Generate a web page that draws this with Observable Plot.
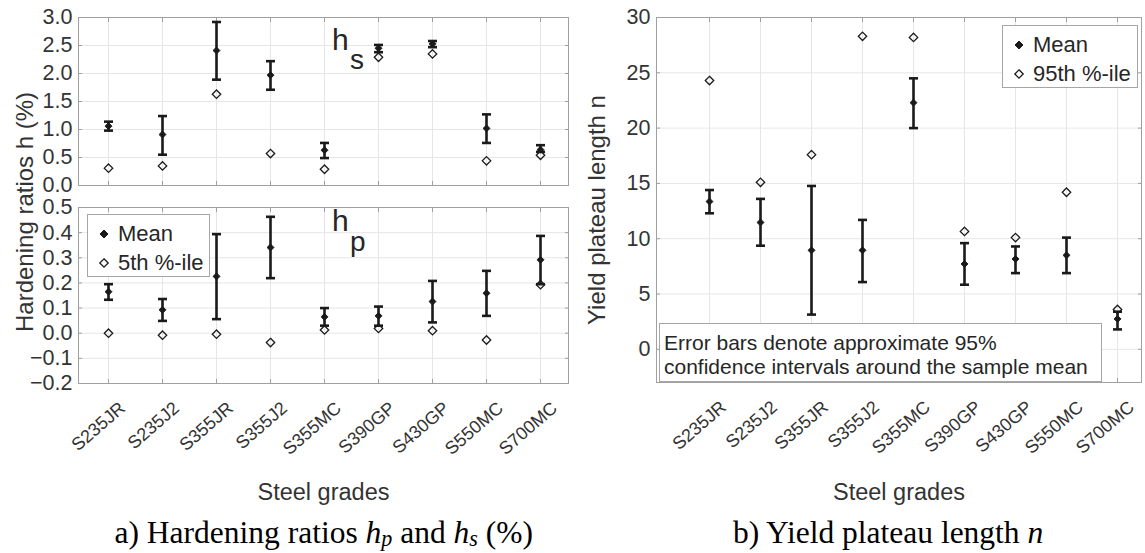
<!DOCTYPE html>
<html>
<head>
<meta charset="utf-8">
<script src="https://cdn.jsdelivr.net/npm/d3@7"></script>
<script src="https://cdn.jsdelivr.net/npm/@observablehq/plot@0.6"></script>
<style>
  body { margin: 0; background: #fff; }
  #wrap { position: relative; width: 1145px; height: 553px; overflow: hidden; font-family: "Liberation Sans", Arial, sans-serif; color: #333; }
  .abs { position: absolute; white-space: nowrap; }
  .ylab { position: absolute; font-size: 24px; color: #333; transform-origin: 0 0; transform: rotate(-90deg); white-space: nowrap; line-height: 1; }
  .legend { position: absolute; background: #fff; border: 1px solid #a6a6a6; box-sizing: border-box; font-size: 22px; color: #262626; }
  .legend .row { position: absolute; left: 0; height: 26px; line-height: 26px; }
  .legend svg { position: absolute; top: 6px; }
  .legend span { position: absolute; }
  .caption { position: absolute; font-family: "Liberation Serif", "Times New Roman", serif; font-size: 31.5px; color: #000; white-space: nowrap; line-height: 1; }
  .caption sub { font-size: 0.7em; vertical-align: -0.12em; line-height: 0; }
  .note { position: absolute; border: 1px solid #a6a6a6; background: #fff; box-sizing: border-box; font-size: 21px; line-height: 24px; color: #262626; padding: 7px 0 0 4px; }
</style>
</head>
<body>
<div id="wrap"></div>
<script>
// ---------------- data ----------------
const grades = ["S235JR", "S235J2", "S355JR", "S355J2", "S355MC", "S390GP", "S430GP", "S550MC", "S700MC"];

// h_s (%) : mean, 95% CI low / high, 5th percentile
const hsMean = [1.06, 0.91, 2.41, 1.97, 0.63, 2.45, 2.53, 1.02, 0.64];
const hsLo   = [0.98, 0.55, 1.89, 1.71, 0.49, 2.38, 2.47, 0.76, 0.60];
const hsHi   = [1.14, 1.24, 2.92, 2.22, 0.76, 2.51, 2.58, 1.27, 0.72];
const hs5    = [0.31, 0.35, 1.63, 0.57, 0.29, 2.29, 2.35, 0.44, 0.54];

// h_p (%) : mean, 95% CI low / high, 5th percentile
const hpMean = [0.165, 0.093, 0.226, 0.341, 0.065, 0.069, 0.126, 0.159, 0.292];
const hpLo   = [0.133, 0.049, 0.056, 0.219, 0.030, 0.030, 0.043, 0.069, 0.195];
const hpHi   = [0.195, 0.136, 0.394, 0.463, 0.100, 0.106, 0.208, 0.248, 0.387];
const hp5    = [0.000, -0.008, -0.004, -0.037, 0.013, 0.019, 0.010, -0.027, 0.193];

// yield plateau length n : mean, 95% CI low / high, 95th percentile
const nMean = [13.36, 11.47, 8.95, 8.95, 22.3, 7.72, 8.17, 8.5, 2.75];
const nLo   = [12.3, 9.37, 3.14, 6.08, 20.0, 5.84, 6.89, 6.89, 1.8];
const nHi   = [14.4, 13.6, 14.77, 11.7, 24.5, 9.6, 9.3, 10.1, 3.4];
const n95   = [24.3, 15.1, 17.6, 28.3, 28.2, 10.66, 10.1, 14.2, 3.6];

// tick values
const hsTicks = [0, 0.5, 1.0, 1.5, 2.0, 2.5, 3.0];
const hpTicks = [-0.2, -0.1, 0, 0.1, 0.2, 0.3, 0.4, 0.5];
const nTicks  = [0, 5, 10, 15, 20, 25, 30];

// ---------------- drawing ----------------
const wrap = document.getElementById("wrap");
const INK = "#1a1a1a";
const FRAME = "#a0a0a0";
const GRID = "#e6e6e6";
const TXT = "#333333";

// horizontal cap symbol for error bars
const capSymbol = {draw(ctx) { ctx.moveTo(-4.5, 0); ctx.lineTo(4.5, 0); }};

function panel({mean, lo, hi, pct, yDomain, yTicks, yFormat, width, height, mt, mb, ml, mr, xRange, showX, xLabelDy, left, top}) {
  const idx = grades.map((_, i) => i);
  const marks = [
    Plot.gridX(grades, {stroke: GRID, strokeOpacity: 1}),
    Plot.gridY(yTicks, {stroke: GRID, strokeOpacity: 1}),
    Plot.frame({stroke: FRAME}),
    // inward tick marks on all four sides
    Plot.axisY(yTicks, {anchor: "left", tickSize: 4, dx: 4, fill: "none", stroke: FRAME, label: null}),
    Plot.axisY(yTicks, {anchor: "right", tickSize: 4, dx: -4, fill: "none", stroke: FRAME, label: null}),
    Plot.axisX(grades, {anchor: "bottom", tickSize: 4, dy: -4, fill: "none", stroke: FRAME, label: null}),
    Plot.axisX(grades, {anchor: "top", tickSize: 4, dy: 4, fill: "none", stroke: FRAME, label: null}),
    // y tick labels
    Plot.axisY(yTicks, {anchor: "left", tickSize: 0, tickPadding: 6, tickFormat: yFormat, fontSize: 21.5, fill: TXT, label: null}),
    // error bars
    Plot.ruleX(idx, {x: i => grades[i], y1: i => lo[i], y2: i => hi[i], stroke: INK, strokeWidth: 2.6}),
    Plot.dot(idx, {x: i => grades[i], y: i => lo[i], symbol: capSymbol, stroke: INK, strokeWidth: 2.6, fill: "none"}),
    Plot.dot(idx, {x: i => grades[i], y: i => hi[i], symbol: capSymbol, stroke: INK, strokeWidth: 2.6, fill: "none"}),
    // percentile (open diamonds)
    Plot.dot(idx, {x: i => grades[i], y: i => pct[i], symbol: "diamond2", r: 3.8, fill: "none", stroke: INK, strokeWidth: 1.3}),
    // mean (filled diamonds)
    Plot.dot(idx, {x: i => grades[i], y: i => mean[i], symbol: "diamond2", r: 3.1, fill: INK, stroke: INK, strokeWidth: 1})
  ];
  if (showX) {
    marks.push(Plot.axisX(grades, {anchor: "bottom", tickSize: 0, tickPadding: 0, tickRotate: -41, fontSize: 18, fill: TXT, label: null, dx: 14, dy: 22}));
    marks.push(Plot.text(["Steel grades"], {frameAnchor: "bottom", dy: xLabelDy, fontSize: 23.5, fill: TXT, lineAnchor: "middle"}));
  }
  const chart = Plot.plot({
    width, height,
    marginTop: mt, marginBottom: mb, marginLeft: ml, marginRight: mr,
    style: {fontFamily: "'Liberation Sans', Arial, sans-serif", background: "transparent", overflow: "visible"},
    x: {type: "point", domain: grades, range: xRange, padding: 0, axis: null},
    y: {domain: yDomain, axis: null},
    marks
  });
  chart.style.position = "absolute";
  chart.style.left = left + "px";
  chart.style.top = top + "px";
  wrap.appendChild(chart);
  return chart;
}

const f1 = d3.format(".1f");

// a) top : h_s
panel({mean: hsMean, lo: hsLo, hi: hsHi, pct: hs5, yDomain: [0, 3], yTicks: hsTicks, yFormat: f1,
  width: 580, height: 190, mt: 17, mb: 5, ml: 78, mr: 12, xRange: [107, 541], showX: false, left: 0, top: 0});

// a) bottom : h_p
panel({mean: hpMean, lo: hpLo, hi: hpHi, pct: hp5, yDomain: [-0.2, 0.5], yTicks: hpTicks, yFormat: f1,
  width: 580, height: 320, mt: 17, mb: 127, ml: 78, mr: 12, xRange: [107, 541], showX: true, xLabelDy: 109, left: 0, top: 190});

// b) n
panel({mean: nMean, lo: nLo, hi: nHi, pct: n95, yDomain: [-3, 30], yTicks: nTicks, yFormat: d3.format("d"),
  width: 565, height: 510, mt: 17, mb: 128, ml: 76, mr: 4, xRange: [126.7, 539.3], showX: true, xLabelDy: 110, left: 580, top: 0});

// ---------------- overlay texts ----------------
function addDiv(cls, html, styles) {
  const d = document.createElement("div");
  d.className = cls;
  d.innerHTML = html;
  Object.assign(d.style, styles);
  wrap.appendChild(d);
  return d;
}

// y-axis labels (rotated)
const yl1 = addDiv("ylab", "Hardening ratios h (%)", {});
const yl2 = addDiv("ylab", "Yield plateau length n", {});
function placeYLab(el, cx, cy) {
  const w = el.offsetWidth, h = el.offsetHeight;
  el.style.left = (cx - h / 2) + "px";
  el.style.top = (cy + w / 2) + "px";
}
placeYLab(yl1, 25, 212);
placeYLab(yl2, 597, 210);

// h_s and h_p panel labels
addDiv("abs", "h", {left: "332px", top: "25px", fontSize: "30px", lineHeight: "1", color: "#262626"});
addDiv("abs", "s", {left: "350px", top: "46px", fontSize: "28px", lineHeight: "1", color: "#262626"});
addDiv("abs", "h", {left: "332px", top: "206px", fontSize: "30px", lineHeight: "1", color: "#262626"});
addDiv("abs", "p", {left: "350px", top: "228px", fontSize: "28px", lineHeight: "1", color: "#262626"});

// legends
function legend(left, top, w, h, label2, symX, txtX) {
  const el = addDiv("legend", "", {left: left + "px", top: top + "px", width: w + "px", height: h + "px"});
  el.innerHTML = `
    <div class="row" style="top:${6}px;width:100%"><svg style="left:${symX}px" width="12" height="14" viewBox="-6 -7 12 14"><path d="M0,-4L4,0L0,4L-4,0Z" fill="${INK}" stroke="${INK}"/></svg><span style="left:${txtX}px">Mean</span></div>
    <div class="row" style="top:${35}px;width:100%"><svg style="left:${symX}px" width="12" height="14" viewBox="-6 -7 12 14"><path d="M0,-4.2L4.2,0L0,4.2L-4.2,0Z" fill="none" stroke="${INK}" stroke-width="1.3"/></svg><span style="left:${txtX}px">${label2}</span></div>`;
}
legend(87, 214, 123, 63, "5th %-ile", 10, 30);
legend(1002, 25, 136, 63, "95th %-ile", 10, 30);

// note box
addDiv("note", "Error bars denote approximate 95%<br>confidence intervals around the sample mean",
  {left: "659px", top: "323px", width: "443px", height: "59px"});

// captions
const capA = addDiv("caption", "a) Hardening ratios <i>h<sub>p</sub></i> and <i>h<sub>s</sub></i> (%)", {});
const capB = addDiv("caption", "b) Yield plateau length <i>n</i>", {});
capA.style.left = (324 - capA.offsetWidth / 2) + "px";
capA.style.top = "517px";
capB.style.left = (888 - capB.offsetWidth / 2) + "px";
capB.style.top = "517px";
</script>
</body>
</html>
